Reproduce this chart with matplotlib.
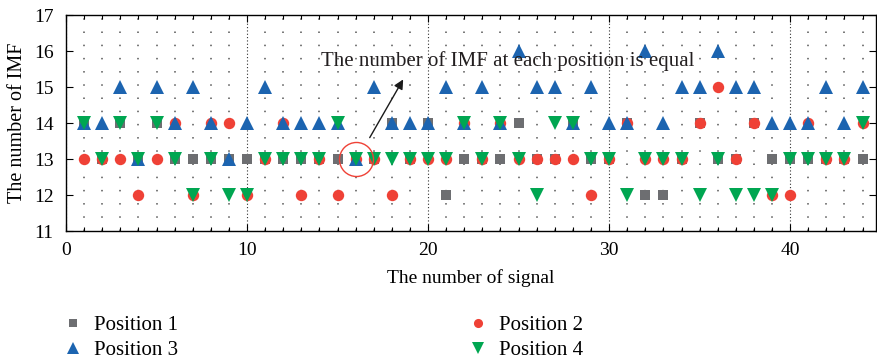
import numpy as np
import matplotlib
matplotlib.use('Agg')
import matplotlib.pyplot as plt

plt.rcParams['font.family'] = ['Liberation Serif', 'DejaVu Serif']
plt.rcParams['font.size'] = 14

# Number of IMF for each signal, per sensor position
signal = list(range(1, 45))
pos1 = [14, 13, 14, 13, 14, 13, 13, 13, 13, 13, 13, 13, 13, 13, 13, 13, 13, 14, 13, 14, 12, 13,
        13, 13, 14, 13, 13, 14, 13, 13, 14, 12, 12, 13, 14, 13, 13, 14, 13, 13, 13, 13, 13, 13]
pos2 = [13, 13, 13, 12, 13, 14, 12, 14, 14, 12, 13, 14, 12, 13, 12, 13, 13, 12, 13, 13, 13, 14,
        13, 14, 13, 13, 13, 13, 12, 13, 14, 13, 13, 13, 14, 15, 13, 14, 12, 12, 14, 13, 13, 14]
pos3 = [14, 14, 15, 13, 15, 14, 15, 14, 13, 14, 15, 14, 14, 14, 14, 13, 15, 14, 14, 14, 15, 14,
        15, 14, 16, 15, 15, 14, 15, 14, 14, 16, 14, 15, 15, 16, 15, 15, 14, 14, 14, 15, 14, 15]
pos4 = [14, 13, 14, 13, 14, 13, 12, 13, 12, 12, 13, 13, 13, 13, 14, 13, 13, 13, 13, 13, 13, 14,
        13, 14, 13, 12, 14, 14, 13, 13, 12, 13, 13, 13, 12, 13, 12, 12, 12, 13, 13, 13, 13, 14]
labels = ['Position 1', 'Position 2', 'Position 3', 'Position 4']

colors = ['#6d6e71', '#ef4136', '#1c64b0', '#00a651']
markers = ['s', 'o', '^', 'v']
sizes = [7.6, 8.2, 10.2, 10.2]

fig = plt.figure(figsize=(8.77, 3.6), dpi=100)
ax = fig.add_axes([0.0753, 0.358, 0.9237, 0.600])

handles = []
for ys, c, m, ms, lab in zip([pos1, pos2, pos3, pos4], colors, markers, sizes, labels):
    h, = ax.plot(signal, ys, linestyle='none', marker=m, ms=ms, color=c,
                 markeredgewidth=0, label=lab, zorder=3)
    handles.append(h)

ax.set_xlim(0, 44.75)
ax.set_ylim(11, 17)
ax.set_xticks([0, 10, 20, 30, 40])
ax.set_xticks(np.arange(1, 45), minor=True)
ax.set_yticks(range(11, 18))
ax.tick_params(which='both', direction='in', top=True, right=True, width=0.8)
ax.tick_params(which='major', length=5)
ax.tick_params(which='minor', length=3)
ax.tick_params(axis='x', which='major', pad=8)
ax.tick_params(axis='y', which='major', pad=9)
for s in ax.spines.values():
    s.set_linewidth(1)

# dotted grid
ax.grid(which='minor', axis='x', color='#555555', linestyle=(0, (1, 7.64)), linewidth=1.1)
ax.grid(which='major', axis='x', color='#303030', linestyle=(0, (1, 2)), linewidth=0.8)
ax.set_axisbelow(True)

ax.set_xlabel('The number of signal', labelpad=7)
ax.set_ylabel('The number of IMF', labelpad=5, fontsize=14.5)

# annotation
ax.plot([16], [13], marker='o', ms=24.5, markerfacecolor='none',
        markeredgecolor='#ef4136', markeredgewidth=1, zorder=4)
ax.annotate('', xy=(18.7, 15.28), xytext=(16.7, 13.53),
            arrowprops=dict(arrowstyle='-|>', color='#1a1a1a', lw=1, mutation_scale=14))
ax.text(24.4, 15.72, 'The number of IMF at each position is equal',
        ha='center', va='center', fontsize=15, color='#231f20')

# legend filled row by row
order = [0, 2, 1, 3]
fig.legend(handles=[handles[i] for i in order], ncol=2, loc='upper left',
           bbox_to_anchor=(0.05, 0.175), frameon=False, handlelength=1.0,
           handletextpad=0.5, columnspacing=13.9, labelspacing=0.25, markerscale=0.8,
           fontsize=15)

fig.savefig('out.png', dpi=100)
